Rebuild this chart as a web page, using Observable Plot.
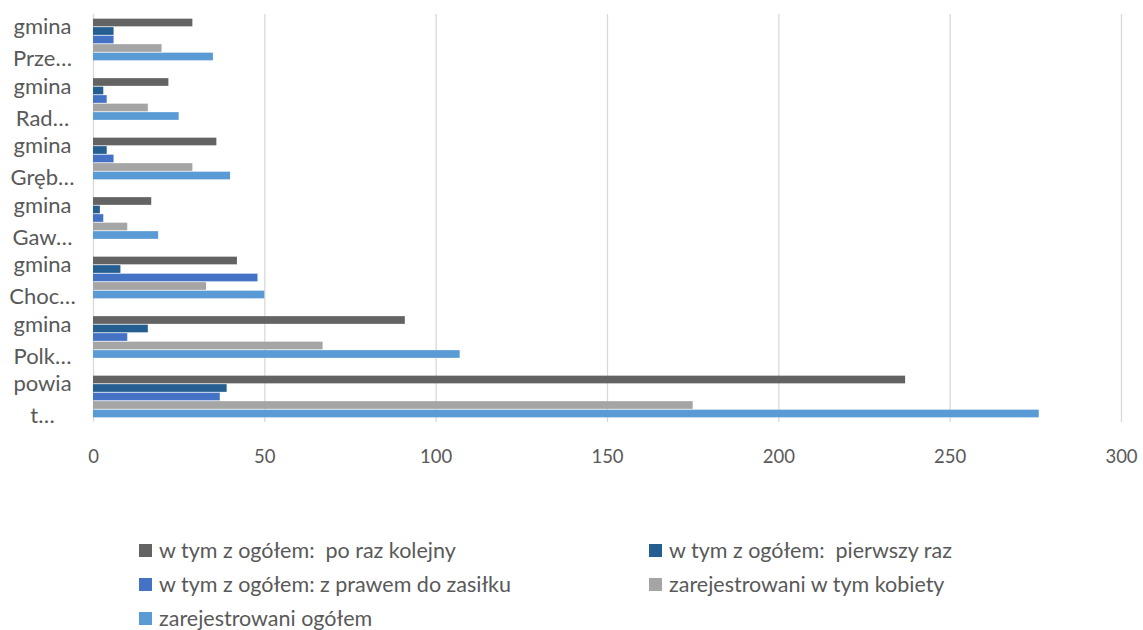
<!DOCTYPE html>
<html>
<head>
<meta charset="utf-8">
<script src="https://cdn.jsdelivr.net/npm/d3@7"></script>
<script src="https://cdn.jsdelivr.net/npm/@observablehq/plot@0.6"></script>
<style>
  body { margin: 0; background: #fff; font-family: Lato, "Open Sans", sans-serif; }
  #chart { width: 1143px; }
  .legend { display: grid; grid-template-columns: 510px 400px; margin: 60px 0 0 139px; row-gap: 10px; color: #595959; font-size: 21.5px; }
  .item { display: flex; align-items: center; height: 24px; white-space: pre; }
  .sw { width: 13px; height: 13px; margin-right: 7px; display: inline-block; flex: none; }
</style>
</head>
<body>
<div id="chart"></div>
<script>
const groups = ["gmina\nPrze…", "gmina\nRad…", "gmina\nGręb…", "gmina\nGaw…", "gmina\nChoc…", "gmina\nPolk…", "powia\nt…"];
const seriesNames = [
  "w tym z ogółem:  po raz kolejny",
  "w tym z ogółem:  pierwszy raz",
  "w tym z ogółem: z prawem do zasiłku",
  "zarejestrowani w tym kobiety",
  "zarejestrowani ogółem"
];
const colors = ["#636363", "#255e91", "#4472c4", "#a5a5a5", "#5b9bd5"];
const poRazKolejny = [29, 22, 36, 17, 42, 91, 237];
const pierwszyRaz  = [6, 3, 4, 2, 8, 16, 39];
const zPrawem      = [6, 4, 6, 3, 48, 10, 37];
const kobiety      = [20, 16, 29, 10, 33, 67, 175];
const ogolem       = [35, 25, 40, 19, 50, 107, 276];
const xTicks = [0, 50, 100, 150, 200, 250, 300];

const seriesValues = [poRazKolejny, pierwszyRaz, zPrawem, kobiety, ogolem];
const data = [];
groups.forEach((g, i) => seriesValues.forEach((vals, j) => {
  data.push({key: i + "|" + j, series: seriesNames[j], value: vals[i]});
}));
const domain = [];
groups.forEach((g, i) => {
  if (i > 0) domain.push(i + "|a");
  for (let j = 0; j < seriesNames.length; j++) domain.push(i + "|" + j);
  if (i < groups.length - 1) domain.push(i + "|b");
});

const plot = Plot.plot({
  width: 1143,
  height: 478,
  marginLeft: 93,
  marginRight: 22,
  marginTop: 14,
  marginBottom: 56,
  style: {fontFamily: "Lato, 'Open Sans', sans-serif", fontSize: "18.5px", color: "#595959", background: "#fff"},
  x: {domain: [0, 300], ticks: xTicks},
  y: {type: "band", domain, paddingInner: 0, paddingOuter: 0.5, round: false},
  color: {domain: seriesNames, range: colors},
  marks: [
    Plot.gridX(xTicks, {stroke: "#d9d9d9", strokeOpacity: 1, strokeWidth: 1.3}),
    Plot.barX(data, {y: "key", x: "value", fill: "series", insetTop: 0.4, insetBottom: 0.4}),
    Plot.axisX({ticks: xTicks, tickSize: 0, tickPadding: 27, label: null}),
    Plot.axisY({
      ticks: groups.map((g, i) => i + "|2"),
      tickFormat: d => groups[+d.split("|")[0]],
      tickSize: 0, tickPadding: 51, textAnchor: "middle", lineHeight: 1.45,
      fontSize: 22, label: null
    })
  ]
});
document.getElementById("chart").appendChild(plot);

const legend = document.createElement("div");
legend.className = "legend";
seriesNames.forEach((s, j) => {
  const it = document.createElement("div");
  it.className = "item";
  const sw = document.createElement("span");
  sw.className = "sw";
  sw.style.background = colors[j];
  it.appendChild(sw);
  it.appendChild(document.createTextNode(s));
  legend.appendChild(it);
});
document.getElementById("chart").appendChild(legend);
</script>
</body>
</html>
